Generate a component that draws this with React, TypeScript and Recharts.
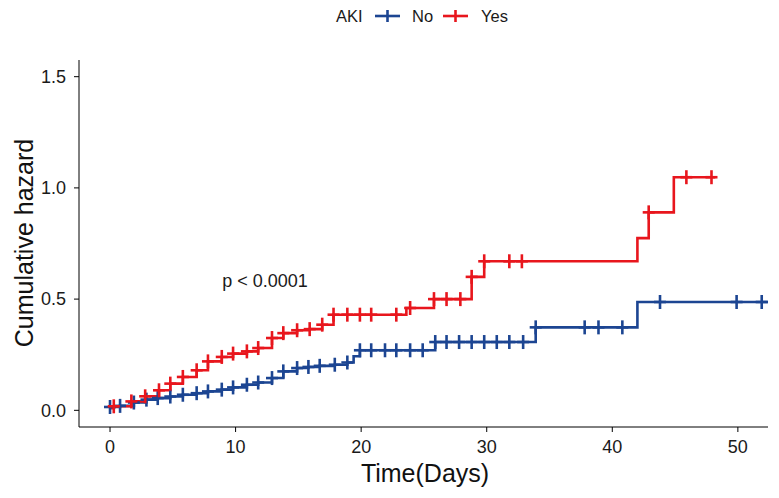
import React from 'react';
import { LineChart, Line, XAxis, YAxis } from 'recharts';

// group "No"
const noEventTime = [0, 0.8, 1.9, 2.9, 3.8, 4.8, 5.8, 6.9, 7.8, 8.9, 9.8, 10.9, 11.8, 12.9, 13.8, 14.9, 15.8, 16.7, 17.9, 18.9, 19.4, 19.9, 25.9, 33.9, 42.0];
const noEventHaz = [0.015, 0.02, 0.035, 0.048, 0.055, 0.062, 0.07, 0.077, 0.085, 0.093, 0.103, 0.115, 0.125, 0.145, 0.175, 0.19, 0.195, 0.2, 0.205, 0.215, 0.243, 0.27, 0.307, 0.373, 0.487];
const noCensorTime = [0, 0.8, 1.9, 2.9, 3.8, 4.8, 5.8, 6.9, 7.8, 8.9, 9.8, 10.9, 11.8, 12.9, 13.8, 14.9, 15.8, 16.7, 17.9, 18.9, 19.9, 20.8, 21.9, 22.8, 23.9, 24.9, 25.9, 26.8, 27.8, 28.8, 29.8, 30.8, 31.8, 32.9, 33.9, 37.8, 38.9, 40.8, 43.8, 49.9, 51.9];
const noEnd = 52.4;

// group "Yes"
const yesEventTime = [0, 0.3, 1.7, 2.8, 3.9, 4.8, 5.8, 6.9, 7.8, 8.9, 9.8, 10.9, 11.8, 12.9, 13.8, 14.9, 15.9, 16.9, 17.8, 23.6, 25.8, 28.8, 29.8, 42.0, 42.9, 44.9];
const yesEventHaz = [0.01, 0.018, 0.04, 0.063, 0.09, 0.12, 0.15, 0.18, 0.22, 0.24, 0.255, 0.265, 0.28, 0.325, 0.347, 0.36, 0.365, 0.385, 0.43, 0.46, 0.5, 0.6, 0.67, 0.774, 0.89, 1.048];
const yesCensorTime = [0.3, 1.7, 2.8, 3.9, 4.8, 5.8, 6.9, 7.8, 8.9, 9.8, 10.9, 11.8, 12.9, 13.8, 14.9, 15.9, 16.9, 17.8, 18.9, 19.9, 20.8, 22.8, 23.9, 25.8, 26.8, 27.9, 28.8, 29.8, 31.8, 32.8, 42.9, 45.9, 47.9];
const yesEnd = 48.2;

const xTicks = [0, 10, 20, 30, 40, 50];
const yTicks = [0, 0.5, 1.0, 1.5];

const BLUE = '#1c4592';
const RED = '#e8161d';
const FONT = 'Arial, "Liberation Sans", sans-serif';

function buildCurve(evT: number[], evH: number[], cT: number[], end: number) {
  const times = Array.from(new Set([...evT, ...cT, end])).sort((a, b) => a - b);
  return times.map((t) => {
    let v = evH[0];
    evT.forEach((et, i) => {
      if (et <= t) v = evH[i];
    });
    return { t, v, c: cT.includes(t) };
  });
}

const noData = buildCurve(noEventTime, noEventHaz, noCensorTime, noEnd);
const yesData = buildCurve(yesEventTime, yesEventHaz, yesCensorTime, yesEnd);

const censorDot = (color: string) => (props: any) => {
  const { cx, cy, payload, index } = props;
  if (!payload || !payload.c) return <g key={`d${index}`} />;
  return (
    <g key={`d${index}`}>
      <line x1={cx - 6} x2={cx + 6} y1={cy} y2={cy} stroke={color} strokeWidth={2.6} />
      <line x1={cx} x2={cx} y1={cy - 7} y2={cy + 7} stroke={color} strokeWidth={2.6} />
    </g>
  );
};

const LegendKey = ({ x, color }: { x: number; color: string }) => (
  <g>
    <line x1={x} x2={x + 25} y1={16} y2={16} stroke={color} strokeWidth={2.6} />
    <line x1={x + 12.5} x2={x + 12.5} y1={10} y2={22} stroke={color} strokeWidth={2.6} />
  </g>
);

export default function App() {
  return (
    <div style={{ position: 'absolute', left: 0, top: 0, width: 779, height: 498, background: '#fff' }}>
      <LineChart width={779} height={498} margin={{ top: 60, right: 11, left: 0, bottom: 0 }}>
        <XAxis
          type="number"
          dataKey="t"
          domain={[-2.47, 52.4]}
          ticks={xTicks}
          allowDataOverflow
          height={71}
          tickSize={5}
          tickMargin={8}
          stroke="#000"
          tick={{ fill: '#1a1a1a', fontSize: 18, fontFamily: FONT }}
        />
        <YAxis
          type="number"
          domain={[-0.075, 1.575]}
          ticks={yTicks}
          allowDataOverflow
          width={79}
          tickSize={5}
          tickMargin={8}
          stroke="#000"
          tickFormatter={(v) => Number(v).toFixed(1)}
          tick={{ fill: '#1a1a1a', fontSize: 18, fontFamily: FONT }}
        />
        <Line
          data={noData}
          dataKey="v"
          type="stepAfter"
          stroke={BLUE}
          strokeWidth={2.6}
          dot={censorDot(BLUE)}
          activeDot={false}
          isAnimationActive={false}
        />
        <Line
          data={yesData}
          dataKey="v"
          type="stepAfter"
          stroke={RED}
          strokeWidth={2.6}
          dot={censorDot(RED)}
          activeDot={false}
          isAnimationActive={false}
        />
      </LineChart>
      <svg
        width={779}
        height={498}
        style={{ position: 'absolute', left: 0, top: 0, pointerEvents: 'none' }}
        fontFamily={FONT}
      >
        <text x={336} y={22} fontSize={16.5} fill="#1a1a1a">AKI</text>
        <LegendKey x={375} color={BLUE} />
        <text x={412} y={22} fontSize={16.5} fill="#1a1a1a">No</text>
        <LegendKey x={443} color={RED} />
        <text x={481} y={22} fontSize={16.5} fill="#1a1a1a">Yes</text>

        <text x={265} y={287} fontSize={18} fill="#1a1a1a" textAnchor="middle">p &lt; 0.0001</text>

        <text x={425} y={482} fontSize={25} fill="#111" textAnchor="middle">Time(Days)</text>
        <text x={33} y={243} fontSize={25} fill="#111" textAnchor="middle" transform="rotate(-90 33 243)">
          Cumulative hazard
        </text>
      </svg>
    </div>
  );
}
